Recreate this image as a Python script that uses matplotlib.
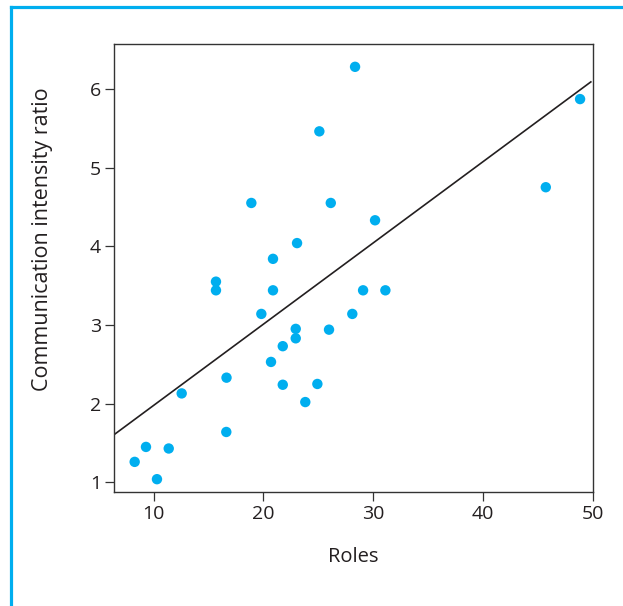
import matplotlib
matplotlib.use("Agg")
import matplotlib.pyplot as plt
from matplotlib.lines import Line2D
import numpy as np

plt.rcParams['font.family'] = ['Open Sans', 'DejaVu Sans']

# data
roles = [8.28, 9.31, 10.31, 11.38, 12.56, 15.68, 15.68, 16.62, 16.64, 18.90,
         19.81, 20.69, 20.87, 20.87, 21.76, 21.76, 22.94, 22.94, 23.06, 23.81,
         24.91, 25.09, 25.97, 26.13, 28.09, 28.34, 29.07, 30.16, 31.10, 45.70,
         48.82]
ratio = [1.26, 1.45, 1.04, 1.43, 2.13, 3.55, 3.44, 1.64, 2.33, 4.55,
         3.14, 2.53, 3.84, 3.44, 2.73, 2.24, 2.95, 2.83, 4.04, 2.02,
         2.25, 5.46, 2.94, 4.55, 3.14, 6.28, 3.44, 4.33, 3.44, 4.75,
         5.87]

# regression line as drawn
fit_intercept = 0.944
fit_slope = 0.1033
fit_range = [6.45, 49.8]

x_ticks = [10, 20, 30, 40, 50]
y_ticks = [1, 2, 3, 4, 5, 6]

cyan = '#00aeef'
ink = '#231f20'

fig = plt.figure(figsize=(6.23, 6.06), dpi=100)
ax = fig.add_axes([0.1830, 0.1881, 0.7689, 0.7393])

ax.scatter(roles, ratio, s=56, color=cyan, edgecolors='none', zorder=3)
lx = np.array(fit_range)
ax.plot(lx, fit_intercept + fit_slope * lx, color=ink, lw=1.2, zorder=2)

ax.set_xlim(6.4, 50)
ax.set_ylim(0.877, 6.57)
ax.set_xticks(x_ticks)
ax.set_yticks(y_ticks)

for sp in ax.spines.values():
    sp.set_color('#333333')
    sp.set_linewidth(1.0)
ax.tick_params(direction='out', length=6.5, width=0.9, color='#333333',
               labelsize=14, labelcolor=ink, pad=3)

ax.set_xlabel('Roles', fontsize=14.5, color=ink, va='center')
ax.xaxis.set_label_coords(0.5, -0.145)
ax.set_ylabel('Communication intensity ratio', fontsize=15.5, color=ink, va='center')
ax.yaxis.set_label_coords(-0.150, 0.565)

# light-blue frame on the left and top of the panel
fy = 1 - 6.7 / 606
fx = 11.3 / 623
fig.add_artist(Line2D([fx, fx], [0, fy], transform=fig.transFigure,
                      color=cyan, lw=2.3, solid_capstyle='projecting'))
fig.add_artist(Line2D([fx, 1], [fy, fy], transform=fig.transFigure,
                      color=cyan, lw=2.3, solid_capstyle='projecting'))

fig.savefig('out.png', dpi=100)
